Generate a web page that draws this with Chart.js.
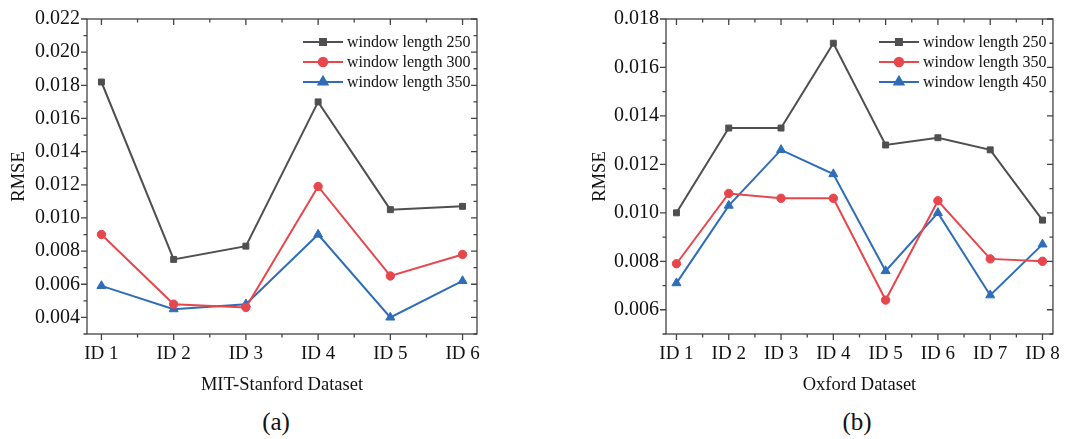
<!DOCTYPE html>
<html lang="en">
<head>
<meta charset="UTF-8">
<title>RMSE x window length</title>
<script src="https://cdn.jsdelivr.net/npm/chart.js"></script>
<style>
    body { margin: 0; background: #fff; width: 1069px; height: 439px; position: relative; overflow: hidden; font-family: "Liberation Serif", serif; }
    .painel { position: absolute; top: 0; height: 400px; }
    #painelA { left: 0; width: 490px; }
    #painelB { left: 580px; width: 489px; }
    .rotulo { position: absolute; top: 408px; font-size: 25px; color: #111; transform: translateX(-50%); }
</style>
</head>
<body>
<div class="painel" id="painelA"><canvas id="graficoA"></canvas></div>
<div class="painel" id="painelB"><canvas id="graficoB"></canvas></div>
<div class="rotulo" style="left:276px">(a)</div>
<div class="rotulo" style="left:857px">(b)</div>

<script>
// (a) MIT-Stanford
const idsA = ['ID 1', 'ID 2', 'ID 3', 'ID 4', 'ID 5', 'ID 6'];
const nomesA = ['window length 250', 'window length 300', 'window length 350'];
const wl250A = [0.0182, 0.0075, 0.0083, 0.0170, 0.0105, 0.0107];
const wl300A = [0.0090, 0.0048, 0.0046, 0.0119, 0.0065, 0.0078];
const wl350A = [0.0059, 0.0045, 0.0048, 0.0090, 0.0040, 0.0062];
const yTicksA = [0.004, 0.006, 0.008, 0.010, 0.012, 0.014, 0.016, 0.018, 0.020, 0.022];

// (b) Oxford
const idsB = ['ID 1', 'ID 2', 'ID 3', 'ID 4', 'ID 5', 'ID 6', 'ID 7', 'ID 8'];
const nomesB = ['window length 250', 'window length 350', 'window length 450'];
const wl250B = [0.0100, 0.0135, 0.0135, 0.0170, 0.0128, 0.0131, 0.0126, 0.0097];
const wl350B = [0.0079, 0.0108, 0.0106, 0.0106, 0.0064, 0.0105, 0.0081, 0.0080];
const wl450B = [0.0071, 0.0103, 0.0126, 0.0116, 0.0076, 0.0100, 0.0066, 0.0087];
const yTicksB = [0.006, 0.008, 0.010, 0.012, 0.014, 0.016, 0.018];

const cores = ['#4f4f4f', '#e8464d', '#2f6db8'];
const estilos = ['rect', 'circle', 'triangle'];
const raios = [4.2, 4.2, 5.2];
const fonte = '"Liberation Serif", "Times New Roman", serif';

// legenda dentro da area do grafico: linha + marcador + texto
const legendaInterna = {
    id: 'legendaInterna',
    afterDraw(chart, args, opts) {
        const ctx = chart.ctx;
        const area = chart.chartArea;
        const x0 = area.right - opts.dx;
        ctx.save();
        chart.data.datasets.forEach((ds, i) => {
            const y = area.top + opts.dy + i * 20;
            ctx.strokeStyle = ds.borderColor;
            ctx.lineWidth = 2;
            ctx.beginPath();
            ctx.moveTo(x0, y);
            ctx.lineTo(x0 + 40, y);
            ctx.stroke();
            ctx.fillStyle = ds.borderColor;
            Chart.helpers.drawPoint(ctx, { pointStyle: ds.pointStyle, radius: ds.pointRadius, rotation: 0, borderWidth: 1 }, x0 + 20, y);
            ctx.fillStyle = '#111';
            ctx.font = '16px ' + fonte;
            ctx.textBaseline = 'middle';
            ctx.textAlign = 'left';
            ctx.fillText(ds.label, x0 + 44, y + 1);
        });
        ctx.restore();
    }
};

// moldura e marcas de escala (fora a esquerda/baixo, dentro a direita/cima)
const moldura = {
    id: 'moldura',
    afterDraw(chart, args, opts) {
        const ctx = chart.ctx;
        const a = chart.chartArea;
        const xs = chart.scales.x;
        const ys = chart.scales.y;
        ctx.save();
        ctx.strokeStyle = '#444';
        ctx.lineWidth = 1.3;
        ctx.strokeRect(a.left, a.top, a.right - a.left, a.bottom - a.top);
        ctx.beginPath();
        for (let v = 1; v <= opts.n; v += 0.5) {
            const px = xs.getPixelForValue(v);
            const len = Number.isInteger(v) ? 6 : 3.5;
            ctx.moveTo(px, a.bottom); ctx.lineTo(px, a.bottom + len);
            ctx.moveTo(px, a.top); ctx.lineTo(px, a.top + len);
        }
        for (let k = Math.ceil(opts.min * 1000); k <= Math.round(opts.max * 1000); k++) {
            const py = ys.getPixelForValue(k / 1000);
            const len = k % 2 === 0 ? 6 : 3.5;
            ctx.moveTo(a.left, py); ctx.lineTo(a.left - len, py);
            ctx.moveTo(a.right, py); ctx.lineTo(a.right - len, py);
        }
        ctx.stroke();
        ctx.restore();
    }
};

function montarGrafico(idCanvas, ids, nomes, series, yTicks, yMin, yMax, tituloX, padTituloY) {
    const datasets = series.map((valores, i) => ({
        label: nomes[i],
        data: valores.map((v, j) => ({ x: j + 1, y: v })),
        borderColor: cores[i],
        backgroundColor: cores[i],
        borderWidth: 2,
        pointStyle: estilos[i],
        pointRadius: raios[i],
        pointBorderWidth: 1,
        tension: 0
    }));

    new Chart(document.getElementById(idCanvas), {
        type: 'line',
        data: { datasets: datasets },
        options: {
            responsive: true,
            maintainAspectRatio: false,
            animation: false,
            layout: { padding: { top: 15, right: 13, left: 0, bottom: 0 } },
            plugins: {
                legend: { display: false },
                tooltip: { enabled: false },
                legendaInterna: { dx: 174, dy: 23 },
                moldura: { n: ids.length, min: yMin, max: yMax }
            },
            scales: {
                x: {
                    type: 'linear',
                    min: 0.8,
                    max: ids.length + 0.2,
                    afterBuildTicks: s => { s.ticks = ids.map((c, i) => ({ value: i + 1 })); },
                    afterFit: s => { s.height = 66; },
                    grid: { display: false, drawTicks: false },
                    border: { display: false },
                    ticks: {
                        autoSkip: false,
                        maxRotation: 0,
                        padding: 9,
                        color: '#111',
                        font: { family: fonte, size: 19 },
                        callback: v => ids[Math.round(v) - 1]
                    },
                    title: {
                        display: true,
                        text: tituloX,
                        color: '#111',
                        font: { family: fonte, size: 18.5 },
                        padding: { top: 0, bottom: 4 }
                    }
                },
                y: {
                    min: yMin,
                    max: yMax,
                    afterBuildTicks: s => { s.ticks = yTicks.map(v => ({ value: v })); },
                    afterFit: s => { s.width = padTituloY.largura; },
                    grid: { display: false, drawTicks: false },
                    border: { display: false },
                    ticks: {
                        padding: 7,
                        color: '#111',
                        font: { family: fonte, size: 20 },
                        callback: v => v.toFixed(3)
                    },
                    title: {
                        display: true,
                        text: 'RMSE',
                        color: '#111',
                        font: { family: fonte, size: 18.5 },
                        padding: { top: padTituloY.topo, bottom: 0 }
                    }
                }
            }
        },
        plugins: [moldura, legendaInterna]
    });
}

montarGrafico('graficoA', idsA, nomesA, [wl250A, wl300A, wl350A], yTicksA, 0.003, 0.022,
    'MIT-Stanford Dataset', { largura: 87, topo: 8 });
montarGrafico('graficoB', idsB, nomesB, [wl250B, wl350B, wl450B], yTicksB, 0.005, 0.018,
    'Oxford Dataset', { largura: 86, topo: 9 });
</script>
</body>
</html>
